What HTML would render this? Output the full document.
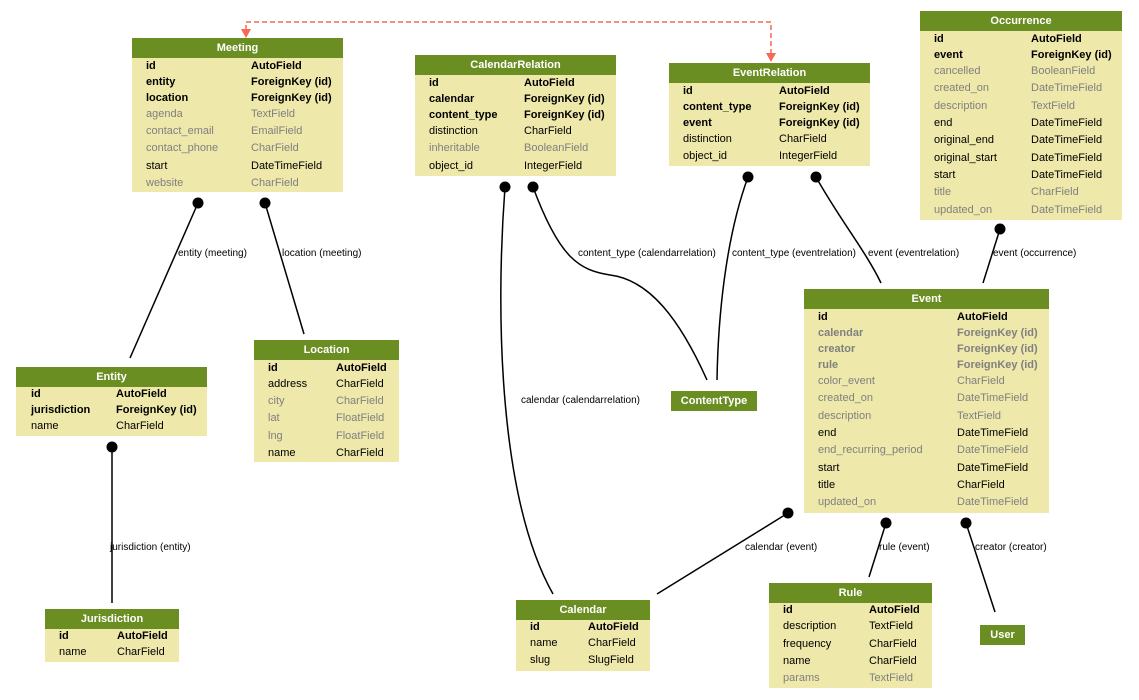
<!DOCTYPE html>
<html><head><meta charset="utf-8">
<style>
body{margin:0;width:1139px;height:700px;background:#fff;position:relative;overflow:hidden;font-family:"Liberation Sans",sans-serif;}
.t{position:absolute;background:#eee8aa;}
.h{height:20px;line-height:20px;background:#6b8e23;color:#fff;font-weight:bold;font-size:11px;text-align:center;}
.r{position:absolute;font-size:11px;white-space:nowrap;color:#000;height:17px;line-height:17px;}
.b{font-weight:bold;}
.g{color:#808080;}
svg{position:absolute;left:0;top:0;}
.l{position:absolute;font-size:10px;white-space:nowrap;color:#000;}
</style></head><body>
<svg width="1139" height="700">
<g stroke="#000" stroke-width="1.5" fill="none">
<path d="M198,203 L130,358"/>
<path d="M265,203 L304,334"/>
<path d="M112,447 L112,603"/>
<path d="M505,187 C495,320 500,500 553,594"/>
<path d="M533,187 C560,260 580,270 610,275 C650,280 680,320 707,380"/>
<path d="M748,177 C725,240 718,320 717,380"/>
<path d="M816,177 C840,220 865,250 881,283"/>
<path d="M1000,229 L983,283"/>
<path d="M788,513 L657,594"/>
<path d="M886,523 L869,577"/>
<path d="M966,523 L995,612"/>
</g>
<g fill="#000">
<circle cx="198" cy="203" r="5.5"/><circle cx="265" cy="203" r="5.5"/>
<circle cx="112" cy="447" r="5.5"/>
<circle cx="505" cy="187" r="5.5"/><circle cx="533" cy="187" r="5.5"/>
<circle cx="748" cy="177" r="5.5"/><circle cx="816" cy="177" r="5.5"/>
<circle cx="1000" cy="229" r="5.5"/>
<circle cx="788" cy="513" r="5.5"/><circle cx="886" cy="523" r="5.5"/><circle cx="966" cy="523" r="5.5"/>
</g>
<path d="M771,54 L771,22 L246,22 L246,30" stroke="#f96854" stroke-width="1.5" stroke-dasharray="5,3" fill="none"/>
<polygon points="241,29 251,29 246,38" fill="#f96854"/>
<polygon points="766,53 776,53 771,62" fill="#f96854"/>
</svg>

<div class="l" style="left:178px;top:248px">entity (meeting)</div>
<div class="l" style="left:282px;top:248px">location (meeting)</div>
<div class="l" style="left:110px;top:542px">jurisdiction (entity)</div>
<div class="l" style="left:521px;top:395px">calendar (calendarrelation)</div>
<div class="l" style="left:578px;top:248px">content_type (calendarrelation)</div>
<div class="l" style="left:732px;top:248px">content_type (eventrelation)</div>
<div class="l" style="left:868px;top:248px">event (eventrelation)</div>
<div class="l" style="left:993px;top:248px">event (occurrence)</div>
<div class="l" style="left:745px;top:542px">calendar (event)</div>
<div class="l" style="left:879px;top:542px">rule (event)</div>
<div class="l" style="left:975px;top:542px">creator (creator)</div>

<!-- Meeting -->
<div class="t" style="left:132px;top:38px;width:211px;height:154px"><div class="h">Meeting</div>
<div class="r b" style="left:14px;top:20px">id</div><div class="r b" style="left:119px;top:20px">AutoField</div>
<div class="r b" style="left:14px;top:36px">entity</div><div class="r b" style="left:119px;top:36px">ForeignKey (id)</div>
<div class="r b" style="left:14px;top:52px">location</div><div class="r b" style="left:119px;top:52px">ForeignKey (id)</div>
<div class="r g" style="left:14px;top:68px">agenda</div><div class="r g" style="left:119px;top:68px">TextField</div>
<div class="r g" style="left:14px;top:85px">contact_email</div><div class="r g" style="left:119px;top:85px">EmailField</div>
<div class="r g" style="left:14px;top:102px">contact_phone</div><div class="r g" style="left:119px;top:102px">CharField</div>
<div class="r" style="left:14px;top:120px">start</div><div class="r" style="left:119px;top:120px">DateTimeField</div>
<div class="r g" style="left:14px;top:137px">website</div><div class="r g" style="left:119px;top:137px">CharField</div>
</div>

<!-- CalendarRelation -->
<div class="t" style="left:415px;top:55px;width:201px;height:121px"><div class="h">CalendarRelation</div>
<div class="r b" style="left:14px;top:20px">id</div><div class="r b" style="left:109px;top:20px">AutoField</div>
<div class="r b" style="left:14px;top:36px">calendar</div><div class="r b" style="left:109px;top:36px">ForeignKey (id)</div>
<div class="r b" style="left:14px;top:52px">content_type</div><div class="r b" style="left:109px;top:52px">ForeignKey (id)</div>
<div class="r" style="left:14px;top:68px">distinction</div><div class="r" style="left:109px;top:68px">CharField</div>
<div class="r g" style="left:14px;top:85px">inheritable</div><div class="r g" style="left:109px;top:85px">BooleanField</div>
<div class="r" style="left:14px;top:103px">object_id</div><div class="r" style="left:109px;top:103px">IntegerField</div>
</div>

<!-- EventRelation -->
<div class="t" style="left:669px;top:63px;width:201px;height:103px"><div class="h">EventRelation</div>
<div class="r b" style="left:14px;top:20px">id</div><div class="r b" style="left:110px;top:20px">AutoField</div>
<div class="r b" style="left:14px;top:36px">content_type</div><div class="r b" style="left:110px;top:36px">ForeignKey (id)</div>
<div class="r b" style="left:14px;top:52px">event</div><div class="r b" style="left:110px;top:52px">ForeignKey (id)</div>
<div class="r" style="left:14px;top:68px">distinction</div><div class="r" style="left:110px;top:68px">CharField</div>
<div class="r" style="left:14px;top:85px">object_id</div><div class="r" style="left:110px;top:85px">IntegerField</div>
</div>

<!-- Occurrence -->
<div class="t" style="left:920px;top:11px;width:202px;height:209px"><div class="h">Occurrence</div>
<div class="r b" style="left:14px;top:20px">id</div><div class="r b" style="left:111px;top:20px">AutoField</div>
<div class="r b" style="left:14px;top:36px">event</div><div class="r b" style="left:111px;top:36px">ForeignKey (id)</div>
<div class="r g" style="left:14px;top:52px">cancelled</div><div class="r g" style="left:111px;top:52px">BooleanField</div>
<div class="r g" style="left:14px;top:69px">created_on</div><div class="r g" style="left:111px;top:69px">DateTimeField</div>
<div class="r g" style="left:14px;top:87px">description</div><div class="r g" style="left:111px;top:87px">TextField</div>
<div class="r" style="left:14px;top:104px">end</div><div class="r" style="left:111px;top:104px">DateTimeField</div>
<div class="r" style="left:14px;top:121px">original_end</div><div class="r" style="left:111px;top:121px">DateTimeField</div>
<div class="r" style="left:14px;top:139px">original_start</div><div class="r" style="left:111px;top:139px">DateTimeField</div>
<div class="r" style="left:14px;top:156px">start</div><div class="r" style="left:111px;top:156px">DateTimeField</div>
<div class="r g" style="left:14px;top:173px">title</div><div class="r g" style="left:111px;top:173px">CharField</div>
<div class="r g" style="left:14px;top:191px">updated_on</div><div class="r g" style="left:111px;top:191px">DateTimeField</div>
</div>

<!-- Event -->
<div class="t" style="left:804px;top:289px;width:245px;height:224px"><div class="h">Event</div>
<div class="r b" style="left:14px;top:20px">id</div><div class="r b" style="left:153px;top:20px">AutoField</div>
<div class="r b g" style="left:14px;top:36px">calendar</div><div class="r b g" style="left:153px;top:36px">ForeignKey (id)</div>
<div class="r b g" style="left:14px;top:52px">creator</div><div class="r b g" style="left:153px;top:52px">ForeignKey (id)</div>
<div class="r b g" style="left:14px;top:68px">rule</div><div class="r b g" style="left:153px;top:68px">ForeignKey (id)</div>
<div class="r g" style="left:14px;top:84px">color_event</div><div class="r g" style="left:153px;top:84px">CharField</div>
<div class="r g" style="left:14px;top:101px">created_on</div><div class="r g" style="left:153px;top:101px">DateTimeField</div>
<div class="r g" style="left:14px;top:119px">description</div><div class="r g" style="left:153px;top:119px">TextField</div>
<div class="r" style="left:14px;top:136px">end</div><div class="r" style="left:153px;top:136px">DateTimeField</div>
<div class="r g" style="left:14px;top:153px">end_recurring_period</div><div class="r g" style="left:153px;top:153px">DateTimeField</div>
<div class="r" style="left:14px;top:171px">start</div><div class="r" style="left:153px;top:171px">DateTimeField</div>
<div class="r" style="left:14px;top:188px">title</div><div class="r" style="left:153px;top:188px">CharField</div>
<div class="r g" style="left:14px;top:205px">updated_on</div><div class="r g" style="left:153px;top:205px">DateTimeField</div>
</div>

<!-- Entity -->
<div class="t" style="left:16px;top:367px;width:191px;height:69px"><div class="h">Entity</div>
<div class="r b" style="left:15px;top:19px">id</div><div class="r b" style="left:100px;top:19px">AutoField</div>
<div class="r b" style="left:15px;top:35px">jurisdiction</div><div class="r b" style="left:100px;top:35px">ForeignKey (id)</div>
<div class="r" style="left:15px;top:51px">name</div><div class="r" style="left:100px;top:51px">CharField</div>
</div>

<!-- Location -->
<div class="t" style="left:254px;top:340px;width:145px;height:122px"><div class="h">Location</div>
<div class="r b" style="left:14px;top:20px">id</div><div class="r b" style="left:82px;top:20px">AutoField</div>
<div class="r" style="left:14px;top:36px">address</div><div class="r" style="left:82px;top:36px">CharField</div>
<div class="r g" style="left:14px;top:53px">city</div><div class="r g" style="left:82px;top:53px">CharField</div>
<div class="r g" style="left:14px;top:70px">lat</div><div class="r g" style="left:82px;top:70px">FloatField</div>
<div class="r g" style="left:14px;top:88px">lng</div><div class="r g" style="left:82px;top:88px">FloatField</div>
<div class="r" style="left:14px;top:105px">name</div><div class="r" style="left:82px;top:105px">CharField</div>
</div>

<!-- ContentType -->
<div class="t" style="left:671px;top:391px;width:86px;height:20px"><div class="h">ContentType</div></div>

<!-- Jurisdiction -->
<div class="t" style="left:45px;top:609px;width:134px;height:53px"><div class="h">Jurisdiction</div>
<div class="r b" style="left:14px;top:19px">id</div><div class="r b" style="left:72px;top:19px">AutoField</div>
<div class="r" style="left:14px;top:35px">name</div><div class="r" style="left:72px;top:35px">CharField</div>
</div>

<!-- Calendar -->
<div class="t" style="left:516px;top:600px;width:134px;height:71px"><div class="h">Calendar</div>
<div class="r b" style="left:14px;top:19px">id</div><div class="r b" style="left:72px;top:19px">AutoField</div>
<div class="r" style="left:14px;top:35px">name</div><div class="r" style="left:72px;top:35px">CharField</div>
<div class="r" style="left:14px;top:52px">slug</div><div class="r" style="left:72px;top:52px">SlugField</div>
</div>

<!-- Rule -->
<div class="t" style="left:769px;top:583px;width:163px;height:105px"><div class="h">Rule</div>
<div class="r b" style="left:14px;top:19px">id</div><div class="r b" style="left:100px;top:19px">AutoField</div>
<div class="r" style="left:14px;top:35px">description</div><div class="r" style="left:100px;top:35px">TextField</div>
<div class="r" style="left:14px;top:53px">frequency</div><div class="r" style="left:100px;top:53px">CharField</div>
<div class="r" style="left:14px;top:70px">name</div><div class="r" style="left:100px;top:70px">CharField</div>
<div class="r g" style="left:14px;top:87px">params</div><div class="r g" style="left:100px;top:87px">TextField</div>
</div>

<!-- User -->
<div class="t" style="left:980px;top:625px;width:45px;height:20px"><div class="h">User</div></div>
</body></html>
